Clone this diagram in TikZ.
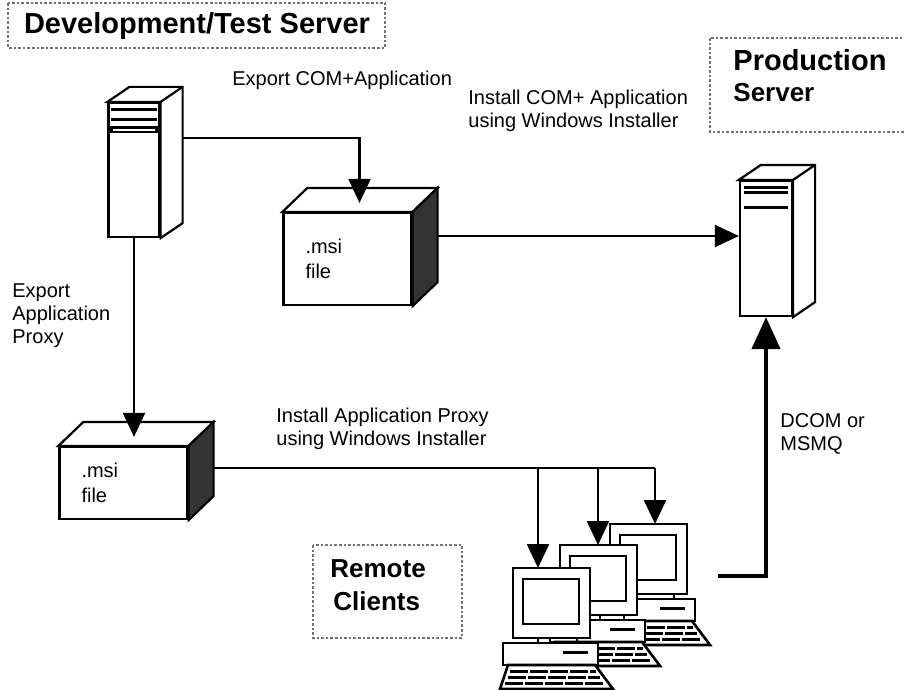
\documentclass[tikz,border=0pt]{standalone}
\usepackage{fontspec}
\setmainfont{Liberation Sans}
\usetikzlibrary{arrows.meta, calc, positioning}

\tikzset{
  flow/.style={line width=1.1pt, -{Triangle[width=11pt,length=12pt]}},
  wire/.style={line width=1.1pt},
  feed/.style={line width=2.2pt, -{Triangle[width=14pt,length=16pt]}},
  framebox/.style={draw=black!55, densely dotted, line width=1.3pt},
  title/.style={font=\bfseries\fontsize{14.5}{16}\selectfont, inner sep=0pt},
  label/.style={align=left, font=\fontsize{10}{11.5}\selectfont, inner sep=0pt},
  face/.style={draw, line width=1.1pt, fill=white, inner sep=0pt},
  tower/.style={face, minimum width=25.5pt, minimum height=67pt},
  msibox/.style={face, minimum width=64pt, text width=42pt, align=left,
    font=\fontsize{10}{12.5}\selectfont},
  pics/pc/.style={code={
    % base unit and keyboard
    \draw[face, line width=1.3pt] (-10,75) rectangle (85,97);
    \fill (50,83) rectangle (75,86);
    \draw[face, line width=1.3pt] (-5,97) -- (82,97) -- (100,121) -- (-13,121) -- cycle;
    \foreach \r/\a/\b in {103/-3/83, 109/-5/87, 115/-8/92}
      \draw[line width=1.5pt, dash pattern=on 9pt off 1pt] (\a,\r) -- (\b,\r);
    % monitor
    \draw[line width=1.3pt] (25,70) -- (25,75) (64,70) -- (64,75);
    \draw[face, line width=1.4pt] (0,0) rectangle (77,70);
    \draw[line width=1.4pt] (10,11) rectangle (66,56);
    \coordinate (-top) at (38,0);
  }}
}

\begin{document}
\begin{tikzpicture}[x=0.5pt, y=-0.5pt]
  \useasboundingbox (0,0) rectangle (904,690);

  % Titles
  \draw[framebox] (8,3) rectangle (385,48);
  \node[title] (devtitle) at (197,26) {Development/Test Server};
  \draw[framebox] (710,38) rectangle (910,132);
  \node[title, anchor=west] (prodtitle) at (733,60) {Production};
  \node[title, anchor=west, font=\bfseries\fontsize{13}{15}\selectfont] (prodtitle2) at (733,93) {Server};
  \draw[framebox] (313,545) rectangle (462,638);
  \node[title, anchor=west, font=\bfseries\fontsize{13}{15}\selectfont] (clienttitle) at (330,569) {Remote};
  \node[title, anchor=west, font=\bfseries\fontsize{13}{15}\selectfont] (clienttitle2) at (333,601) {Clients};

  % Servers
  \node[tower] (devsrv) at (134,170) {};
  \node[tower, minimum width=26pt, minimum height=67.5pt] (prodsrv) at (766,248.5) {};
  \foreach \s in {devsrv, prodsrv} {
    \draw[face] (\s.north west) -- ++(22,-15) -- ($(\s.north east)+(22,-15)$)
      -- ($(\s.south east)+(22,-15)$) -- (\s.south east) -- (\s.north east) -- cycle;
    \draw[line width=1.1pt] (\s.north east) -- ++(22,-15);
  }
  \foreach \y in {6,16} \fill ($(devsrv.north west)+(4,\y)$) rectangle ($(devsrv.north east)+(-4,\y+3.5)$);
  \draw[line width=1.4pt] ($(devsrv.north west)+(4,26)$) rectangle ($(devsrv.north east)+(-4,30)$);
  \foreach \y in {6,11,26} \fill ($(prodsrv.north west)+(5,\y)$) rectangle ($(prodsrv.north east)+(-5,\y+3)$);

  % .msi packages
  \node[msibox, minimum height=46pt] (msiapp) at (347.5,259) {.msi\\file};
  \node[msibox, minimum height=36pt] (msiproxy) at (123.5,483) {.msi\\file};
  \foreach \m in {msiapp, msiproxy} {
    \draw[face] (\m.north west) -- ++(25,-24) -- ($(\m.north east)+(25,-24)$) -- (\m.north east) -- cycle;
    \draw[line width=1.1pt, fill=black!80] (\m.north east) -- ++(25,-24) -- ($(\m.south east)+(25,-24)$)
      -- (\m.south east) -- cycle;
  }

  % Clients
  \pic (pcC) at (610,524) {pc};
  \pic (pcB) at (560,545) {pc};
  \pic (pcA) at (513,568) {pc};

  % Labels
  \node[label, anchor=west] (exportlbl) at (232,80) {Export COM+Application};
  \node[label, anchor=north west] (installlbl) at (468,90) {Install COM+ Application\\using Windows Installer};
  \node[label, anchor=north west] (proxylbl) at (12,283) {Export\\Application\\Proxy};
  \node[label, anchor=north west] (setuplbl) at (276,408) {Install Application Proxy\\using Windows Installer};
  \node[label, anchor=north west] (dcomlbl) at (780,413) {DCOM or\\MSMQ};

  % Edges
  \coordinate (devout) at ($(devsrv.north east)+(22,36)$);
  \coordinate (apptop) at ($(msiapp.north)+(12,-9)$);
  \coordinate (proxytop) at ($(msiproxy.north)+(12,-9)$);
  \coordinate (appout) at ($(msiapp.east)+(25,-23)$);
  \coordinate (proxyout) at ($(msiproxy.east)+(25,-15)$);
  \coordinate (tapA) at (538,468);
  \coordinate (tapB) at (598,468);
  \coordinate (tapC) at (655,468);
  \coordinate (clientsout) at (718,576);

  \draw[flow] (devout) -| (apptop);
  \draw[flow] (devsrv.south) -- (devsrv.south |- proxytop);
  \draw[flow] (appout) -- (prodsrv.west |- appout);
  \draw[wire] (proxyout) -- (tapC);
  \foreach \t/\p in {tapA/pcA, tapB/pcB, tapC/pcC}
    \draw[flow] (\t) -- (\t |- \p-top);
  \draw[feed] (clientsout) -| (prodsrv.south);
\end{tikzpicture}
\end{document}
